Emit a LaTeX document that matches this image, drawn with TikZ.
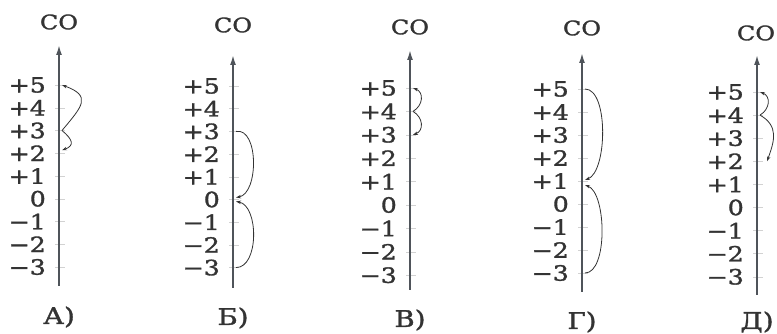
\documentclass[tikz,border=0pt]{standalone}
\usepackage{fontspec}
\setmainfont{DejaVu Serif}[FakeStretch=1.2,FakeBold=1.5]
\usetikzlibrary{arrows.meta}
\definecolor{ink}{HTML}{333333}
\definecolor{axisgray}{HTML}{4F545A}

\begin{document}
\begin{tikzpicture}[x=1pt,y=1pt,
    lvl/.style={anchor=east,inner sep=0pt,text=ink,font=\fontsize{21}{21}\selectfont},
    formula/.style={inner sep=0pt,text=ink,font=\fontsize{20}{20}\selectfont},
    caption/.style={inner sep=0pt,text=ink,font=\fontsize{23}{23}\selectfont},
    axisline/.style={line width=1.6pt,draw=axisgray,-{Latex[length=10pt,width=6pt]}},
    tick/.style={draw=gray!35,line width=0.4pt},
    jump/.style={draw=ink,line width=0.8pt,-{Stealth[length=5pt,width=3.5pt]}}]
    \useasboundingbox (0,0) rectangle (777,334);
    % one scale of oxidation states for each answer
    \foreach \s/\x/\y/\d/\t/\b/\c/\l/\name in {a/59/249/22.75/289/48/312/17/А),b/233/248/22.7/279/46/309/16/Б),c/410/246/23.4/284/44/307/14/В),d/582/245/23/281/42/306/12/Г),e/757/242/23.1/279/39/301/12/Д)} {
        \coordinate (\s bot) at (\x,\b);
        \coordinate (\s top) at (\x,\t);
        \foreach \k/\txt in {5/+5,4/+4,3/+3,2/+2,1/+1,0/0,-1/−1,-2/−2,-3/−3} {
            \node[lvl] (\s l\k) at ({\x-13},{\y-(5-(\k))*\d}) {\txt};
            \coordinate (\s p\k) at ({\x+3},{\y-(5-(\k))*\d});
            \coordinate (\s q\k) at ({\x-4},{\y-(5-(\k))*\d});
            \draw[tick] (\s q\k) -- ([xshift=3pt]\s p\k);
        }
        \draw[axisline] (\s bot) -- (\s top);
        \node[formula] (\s co) at ({min(\x,756)},\c) {CO};
        \node[caption] (\s cap) at (\x,\l) {\name};
    }
    % А)
    \draw[jump] (ap3) to[out=50,in=-20,looseness=1.8] (ap5);
    \draw[jump] (ap3) to[out=-40,in=20,looseness=1.8] ([yshift=3pt]ap2);
    % Б)
    \draw[jump] (bp3) to[out=10,in=10,looseness=0.9] ([yshift=2pt]bp0);
    \draw[jump] (bp-3) to[out=0,in=-10,looseness=0.9] ([yshift=-2pt]bp0);
    % В)
    \draw[jump] (cp4) to[out=30,in=-20,looseness=1.3] (cp5);
    \draw[jump] (cp4) to[out=-30,in=20,looseness=1.3] (cp3);
    % Г)
    \draw[jump] (dp5) to[out=0,in=20,looseness=0.67] ([yshift=1pt]dp1);
    \draw[jump] (dp-3) to[out=0,in=-20,looseness=0.67] ([yshift=-4pt]dp1);
    % Д)
    \draw[jump] (ep4) to[out=30,in=-20,looseness=1.3] (ep5);
    \draw[jump] (ep4) to[out=-30,in=70,looseness=1.2] ([xshift=7pt]ep2);
\end{tikzpicture}
\end{document}
